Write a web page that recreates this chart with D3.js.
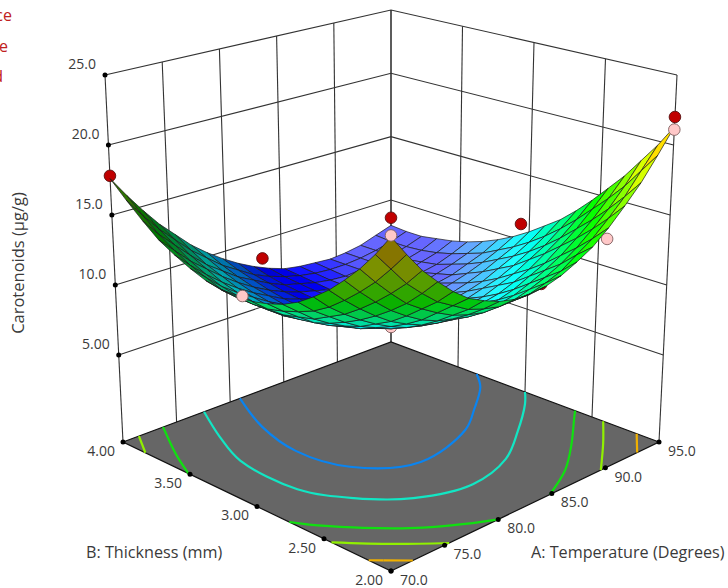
<!DOCTYPE html>
<html><head><meta charset="utf-8">
<style>html,body{margin:0;padding:0;background:#fff;overflow:hidden}text{font-family:"Open Sans",sans-serif;fill:#3a3a3a}</style>
<script src="https://cdnjs.cloudflare.com/ajax/libs/d3/7.8.5/d3.min.js"></script></head><body>
<svg id="c" width="728" height="588"></svg>
<script>
const tA=[70,75,80,85,90,95], tB=[2,2.5,3,3.5,4], tZ=[5,10,15,20,25];
// Carotenoids: rows run along A (70..95), one row per step of B (2..4)
const zGrid=[
[21.3,19.7,18.2,17.0,15.9,15.0,14.4,13.9,13.6,13.5,13.6,13.9,14.4,15.0,15.9,17.0,18.2,19.7,21.3],
[19.7,18.3,16.9,15.8,14.8,14.1,13.4,13.0,12.7,12.7,12.7,13.0,13.4,14.1,14.8,15.8,16.9,18.3,19.7],
[18.3,17.0,15.8,14.7,13.9,13.2,12.6,12.2,11.9,11.9,11.9,12.2,12.6,13.1,13.8,14.7,15.7,16.9,18.3],
[17.1,15.9,14.8,13.8,13.0,12.3,11.8,11.5,11.2,11.1,11.2,11.4,11.8,12.3,12.9,13.7,14.6,15.7,16.9],
[16.0,14.9,13.9,13.0,12.2,11.6,11.1,10.8,10.6,10.5,10.5,10.7,11.0,11.5,12.0,12.8,13.6,14.6,15.7],
[15.1,14.0,13.1,12.3,11.6,11.0,10.5,10.2,10.0,9.9,9.9,10.1,10.3,10.7,11.2,11.9,12.6,13.5,14.5],
[14.3,13.3,12.5,11.7,11.0,10.5,10.0,9.7,9.5,9.4,9.4,9.5,9.7,10.1,10.5,11.1,11.7,12.5,13.4],
[13.7,12.8,11.9,11.2,10.6,10.0,9.6,9.3,9.0,8.9,8.9,9.0,9.2,9.5,9.8,10.3,10.9,11.6,12.4],
[13.3,12.4,11.6,10.8,10.2,9.7,9.2,8.9,8.7,8.5,8.5,8.5,8.7,8.9,9.2,9.7,10.2,10.8,11.6],
[13.0,12.1,11.3,10.6,10.0,9.4,9.0,8.6,8.4,8.2,8.1,8.1,8.2,8.4,8.7,9.1,9.6,10.1,10.8],
[12.9,12.0,11.2,10.4,9.8,9.3,8.8,8.4,8.1,7.9,7.8,7.8,7.9,8.0,8.3,8.6,9.0,9.5,10.1],
[12.9,12.0,11.2,10.4,9.8,9.2,8.7,8.3,8.0,7.7,7.6,7.5,7.6,7.7,7.9,8.1,8.5,8.9,9.5],
[13.1,12.1,11.3,10.5,9.8,9.2,8.7,8.2,7.9,7.6,7.4,7.3,7.3,7.4,7.5,7.8,8.1,8.5,9.0],
[13.5,12.5,11.5,10.7,10.0,9.3,8.7,8.2,7.8,7.5,7.3,7.2,7.1,7.1,7.3,7.5,7.7,8.1,8.6],
[14.0,12.9,11.9,11.0,10.2,9.5,8.9,8.3,7.9,7.5,7.3,7.1,7.0,7.0,7.1,7.2,7.5,7.8,8.3],
[14.6,13.5,12.4,11.5,10.6,9.8,9.1,8.5,8.0,7.6,7.3,7.0,6.9,6.9,6.9,7.1,7.3,7.6,8.1],
[15.5,14.2,13.1,12.0,11.0,10.2,9.4,8.8,8.2,7.7,7.4,7.1,6.9,6.8,6.9,7.0,7.2,7.5,7.9],
[16.5,15.1,13.8,12.7,11.6,10.7,9.8,9.1,8.4,7.9,7.5,7.2,7.0,6.9,6.9,7.0,7.2,7.5,7.9],
[17.6,16.1,14.7,13.4,12.3,11.2,10.3,9.5,8.8,8.2,7.7,7.3,7.1,7.0,6.9,7.0,7.2,7.6,8.0]];
const levels=[8.9,10.8,13.8,16,19];
const levelColors=["#0a84f0","#12e6c4","#10e010","#90f000","#f0b000"];
// design points: [A, B, response]
const above=[[70,4,17.8],[83.3,4,8.6],[95,4,8.6],[95,3.06,11.2],[95,2,22],[83.5,2,13.9]];
const below=[[70,3.07,13.1],[70,2,21.4],[95,2.44,12],[95,2,21.1]];
const hiddenBelow=[[82.5,3,7.6]];
const NP=zGrid.length,NC=NP-1;
const su=d3.scaleLinear().domain([70,95]).range([0,1]),sv=d3.scaleLinear().domain([2,4]).range([0,1]),sw=d3.scaleLinear().domain([-1.21,25]).range([0,1]);
const FL={F:[391,571],R:[659,442],L:[123,442],B:[391,342]},TP={F:[391,182],R:[677,75],L:[105,75],B:[391,10]};
const bil=(c,u,v,k)=>(1-u)*(1-v)*c.F[k]+u*(1-v)*c.R[k]+(1-u)*v*c.L[k]+u*v*c.B[k];
const P0=(u,v,w)=>[0,1].map(k=>{const a=bil(FL,u,v,k),b=bil(TP,u,v,k);return a+(b-a)*w});
const P=(A,B,z)=>P0(su(A),sv(B),sw(z));
const col=d3.scaleLinear().domain([7.8,10.6,14.5,19,25]).range(["#0000ff","#00ffff","#00ff00","#ffff00","#ff0000"]).clamp(true);
const svg=d3.select("#c");
const line=d3.line();
const g=svg.append("g").attr("fill","none").attr("stroke","#333").attr("stroke-width",1.1);
const zf=-1.21;
tA.forEach(a=>g.append("path").attr("d",line([P(a,4,zf),P(a,4,25)])));
tB.forEach(b=>g.append("path").attr("d",line([P(95,b,zf),P(95,b,25)])));
tZ.forEach(z=>g.append("path").attr("d",line([P(70,4,z),P(95,4,z),P(95,2,z)])));
svg.append("path").attr("d",line([P(70,2,zf),P(95,2,zf),P(95,4,zf),P(70,4,zf)])+"Z").attr("fill","#666").attr("stroke","#111").attr("stroke-width",1.2);
const cs=d3.contours().size([NP,NP]).thresholds(levels)(zGrid.flat());
const cl=d3.line().curve(d3.curveCatmullRom);
const thin=s=>s.filter((p,i)=>i%4==0||i==s.length-1);
cs.forEach((c,ci)=>{let segs=[];c.coordinates.forEach(poly=>poly.forEach(ring=>{let cur=[];ring.forEach(p=>{const ok=p[0]>=.5&&p[0]<=NP-.5&&p[1]>=.5&&p[1]<=NP-.5;if(ok)cur.push(p);else{if(cur.length>1)segs.push(cur);cur=[]}});if(cur.length>1)segs.push(cur)}));
 segs.forEach(s=>svg.append("path").attr("d",cl(thin(s).map(p=>P0((p[0]-.5)/NC,(p[1]-.5)/NC,0)))).attr("fill","none").attr("stroke",levelColors[ci]).attr("stroke-width",2.2));});
const dot=(p,r=2.5)=>svg.append("circle").attr("cx",p[0]).attr("cy",p[1]).attr("r",r).attr("fill","#000");
tZ.forEach(z=>dot(P(70,4,z)));tA.forEach(a=>dot(P(a,2,zf)));tB.forEach(b=>dot(P(70,b,zf)));
const txt=(t,x,y,a="start",fs=14)=>svg.append("text").attr("x",x).attr("y",y).attr("text-anchor",a).attr("font-size",fs).attr("dominant-baseline","middle").text(t);
tZ.forEach(z=>{const p=P(70,4,z);txt(z==5?"5.00":z.toFixed(1),p[0]-9,p[1]-10,"end")});
tA.forEach(a=>{const p=P(a,2,zf);txt(a.toFixed(1),p[0]+9,p[1]+10)});
tB.forEach(b=>{const p=P(70,b,zf);txt(b.toFixed(2),p[0]-8,p[1]+10,"end")});
txt("A: Temperature (Degrees)",531,554,"start",16.2);txt("B: Thickness (mm)",86,554,"start",16.2);
svg.append("text").attr("transform","translate(24,263) rotate(-90)").attr("text-anchor","middle").attr("font-size",16.5).text("Carotenoids (µg/g)");
[["ce",12,17],["e",8,48],["d",3,78]].forEach(d=>svg.append("text").attr("x",d[1]).attr("y",d[2]).attr("text-anchor","end").attr("dominant-baseline","middle").attr("font-size",16).style("fill","#c02020").text(d[0]));
const pt=(d,f,s)=>svg.append("circle").attr("cx",P(...d)[0]).attr("cy",P(...d)[1]).attr("r",5.8).attr("fill",f).attr("stroke",s).attr("stroke-width",.9);
above.forEach(d=>pt(d,"#c00000","#5a1010"));
hiddenBelow.forEach(d=>pt(d,"#ffc8c8","#806060"));
const cells=[];for(let j=0;j<NC;j++)for(let i=0;i<NC;i++)cells.push([i,j]);
cells.sort((a,b)=>(b[0]+b[1])-(a[0]+a[1]));
const AA=d3.scaleLinear().domain([0,NC]).range([70,95]),BB=d3.scaleLinear().domain([0,NC]).range([2,4]);
const lig=[-.45,.5,.74];
const cl01=x=>Math.max(0,Math.min(1,x));
cells.forEach(([i,j])=>{const q=[[i,j],[i+1,j],[i+1,j+1],[i,j+1]].map(([a,b])=>P(AA(a),BB(b),zGrid[b][a]));
 const z=(zGrid[j][i]+zGrid[j][i+1]+zGrid[j+1][i]+zGrid[j+1][i+1])/4;
 const du=(zGrid[j][i+1]+zGrid[j+1][i+1]-zGrid[j][i]-zGrid[j+1][i])/2*NC/26.5,dv=(zGrid[j+1][i]+zGrid[j+1][i+1]-zGrid[j][i]-zGrid[j][i+1])/2*NC/26.5;
 const m=Math.hypot(du,dv,1),N=[-du/m,-dv/m,1/m];
 let area=0;for(let k=0;k<4;k++){const a=q[k],b=q[(k+1)%4];area+=a[0]*b[1]-b[0]*a[1]}
 const dotl=N[0]*lig[0]+N[1]*lig[1]+N[2]*lig[2];
 let c=d3.rgb(col(z)),out;
 if(area<0){const b=Math.max(.45,Math.min(1,.4+.9*dotl));const s=.4*cl01((dotl-.6)/.2)*cl01((11-z)/2.5);out=d3.rgb(c.r*b+255*s,c.g*b+255*s,c.b*b+255*s)}
 else{const b=Math.min(1,.25+.85*N[2]*N[2]);out=d3.rgb(c.r*b,c.g*b,c.b*b)}
 svg.append("path").attr("d",line(q)+"Z").attr("fill",out.formatHex()).attr("stroke","#1a1a1a").attr("stroke-width",.7).attr("stroke-linejoin","round");
});
below.forEach(d=>pt(d,"#ffc8c8","#806060"));
</script></body></html>
